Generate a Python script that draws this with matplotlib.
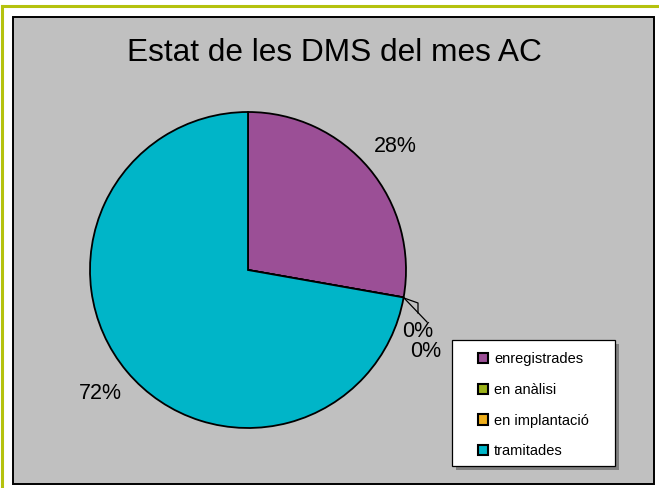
import matplotlib
matplotlib.use("Agg")
import matplotlib.pyplot as plt
from matplotlib.patches import Rectangle
from matplotlib.lines import Line2D

plt.rcParams['font.family'] = ['Liberation Sans', 'DejaVu Sans']

# data
categories = ['enregistrades', 'en anàlisi', 'en implantació', 'tramitades']
values = [5, 0, 0, 13]
colors = ['#9b4f96', '#9cb21a', '#eeae1c', '#00b5c8']
title = 'Estat de les DMS del mes AC'

W, H = 659, 488
fig = plt.figure(figsize=(W / 100, H / 100), dpi=100)
fig.patch.set_facecolor('white')

def fx(px):
    return px / W

def fy(py):
    return 1 - py / H

# yellow-green outer frame (top and left visible)
fig.add_artist(Line2D([fx(1.5), fx(1.5)], [fy(5.5), 0], color='#b5c20e', lw=2.2, zorder=-2))
fig.add_artist(Line2D([fx(1.5), 1], [fy(5.5), fy(5.5)], color='#b5c20e', lw=2.2, zorder=-2))

# gray chart area
fig.add_artist(Rectangle((fx(12.5), fy(483.5)), fx(654) - fx(12.5), fy(16.5) - fy(483.5),
                         transform=fig.transFigure, facecolor='#c0c0c0',
                         edgecolor='black', lw=1.4, zorder=-1))

fig.text(fx(334), fy(53), title, ha='center', va='center', fontsize=22.8)

cx, cy, r = 248, 270, 158
ax = fig.add_axes([fx(cx - r), fy(cy + r), (2 * r) / W, (2 * r) / H])
ax.set_facecolor('none')
ax.set_zorder(1)

total = sum(values)

def pct(p):
    return '%d%%' % round(p) if p > 0.5 else ''

wedges, texts, autotexts = ax.pie(values, colors=colors, startangle=90, counterclock=False,
                                  autopct=pct, pctdistance=1.22, radius=1,
                                  wedgeprops=dict(edgecolor='black', linewidth=1.3),
                                  textprops=dict(fontsize=15.5))
ax.set_xlim(-1, 1)
ax.set_ylim(-1, 1)
ax.set_aspect('equal')
ax.axis('off')

def dx(px):
    return (px - cx) / r

def dy(py):
    return (cy - py) / r

# labels for the zero slices with leader lines
zero_idx = [i for i, v in enumerate(values) if v == 0]
zero_pos = [(418, 332), (426, 352)]
for i, (px, py) in zip(zero_idx, zero_pos):
    ax.text(dx(px), dy(py), '%d%%' % round(100 * values[i] / total), ha='center', va='center',
            fontsize=15.5, clip_on=False)
ax.plot([dx(404), dx(418), dx(418)], [dy(298), dy(303), dy(313)], color='black', lw=0.9, clip_on=False)
ax.plot([dx(404), dx(427)], [dy(298), dy(322)], color='black', lw=0.9, clip_on=False)

# legend box with shadow
fig.add_artist(Rectangle((fx(456), fy(470)), fx(615) - fx(452), fy(340) - fy(466),
                         transform=fig.transFigure, facecolor='#808080', edgecolor='none', zorder=3))
fig.add_artist(Rectangle((fx(452), fy(466)), fx(615) - fx(452), fy(340) - fy(466),
                         transform=fig.transFigure, facecolor='white', edgecolor='black',
                         lw=0.9, zorder=4))

leg = fig.legend(wedges, categories, loc='upper left',
                 bbox_to_anchor=(fx(478), fy(352)), bbox_transform=fig.transFigure,
                 fontsize=10.5, frameon=False,
                 handlelength=0.7, handleheight=0.7, handletextpad=0.4,
                 labelspacing=1.15, borderpad=0, borderaxespad=0)
leg.set_zorder(5)
for h in leg.legend_handles:
    h.set_linewidth(1.5)

fig.savefig('out.png', dpi=100)
